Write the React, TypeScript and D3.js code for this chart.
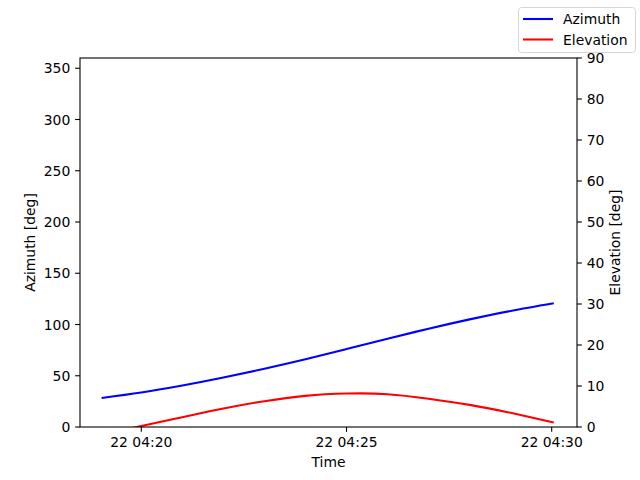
import React from "react";
import * as d3 from "d3";

const timeLabels = [
  "2024-01-22T04:19:02", "2024-01-22T04:20:00", "2024-01-22T04:21:00", "2024-01-22T04:22:00",
  "2024-01-22T04:23:00", "2024-01-22T04:24:00", "2024-01-22T04:25:00", "2024-01-22T04:26:00",
  "2024-01-22T04:27:00", "2024-01-22T04:28:00", "2024-01-22T04:29:00", "2024-01-22T04:30:03",
];
const azimuth = [28.3, 33.6, 40.4, 48.2, 56.8, 66.0, 76.0, 86.1, 95.9, 105.0, 113.2, 120.7];
const elevation = [-2.0, 0.25, 2.4, 4.5, 6.3, 7.6, 8.15, 8.0, 6.9, 5.4, 3.45, 1.1];
const azTicks = [0, 50, 100, 150, 200, 250, 300, 350];
const elTicks = [0, 10, 20, 30, 40, 50, 60, 70, 80, 90];
const xTickLabels = ["2024-01-22T04:20:00", "2024-01-22T04:25:00", "2024-01-22T04:30:00"];

const parse = d3.utcParse("%Y-%m-%dT%H:%M:%S");
const fmt = d3.utcFormat("%d %H:%M");

export default function App() {
  const W = 640, H = 480;
  const L = 80, R = 577, T = 58, B = 427;
  const times = timeLabels.map((s) => parse(s) as Date);
  const xt = xTickLabels.map((s) => parse(s) as Date);
  const x = d3.scaleUtc().domain([xt[0], xt[2]]).range([141.3, 551.7]);
  const yA = d3.scaleLinear().domain([0, 360]).range([B, T]);
  const yE = d3.scaleLinear().domain([0, 90]).range([B, T]);
  const idx = d3.range(times.length);
  const lineA = d3.line<number>().x((i) => x(times[i])).y((i) => yA(azimuth[i])).curve(d3.curveNatural);
  const lineE = d3.line<number>().x((i) => x(times[i])).y((i) => yE(elevation[i])).curve(d3.curveNatural);
  const font = "DejaVu Sans, sans-serif";
  const fs = 13.9;
  const tl = 4.86;
  return (
    <div style={{ position: "absolute", left: 0, top: 0 }}>
      <svg width={W} height={H} style={{ display: "block" }} fontFamily={font} fontSize={fs}>
        <rect width={W} height={H} fill="white" />
        <defs>
          <clipPath id="plot">
            <rect x={L} y={T} width={R - L} height={B - T} />
          </clipPath>
        </defs>
        <g clipPath="url(#plot)">
          <path d={lineA(idx) || ""} fill="none" stroke="#0000ff" strokeWidth={2.08} />
          <path d={lineE(idx) || ""} fill="none" stroke="#ff0000" strokeWidth={2.08} />
        </g>
        <rect x={L} y={T} width={R - L} height={B - T} fill="none" stroke="black" strokeWidth={1.1} />
        {azTicks.map((v) => (
          <g key={"a" + v}>
            <line x1={L - tl} x2={L} y1={yA(v)} y2={yA(v)} stroke="black" strokeWidth={1.1} />
            <text x={L - tl - 4.86} y={yA(v)} dy="0.36em" textAnchor="end">{v}</text>
          </g>
        ))}
        {elTicks.map((v) => (
          <g key={"e" + v}>
            <line x1={R} x2={R + tl} y1={yE(v)} y2={yE(v)} stroke="black" strokeWidth={1.1} />
            <text x={R + tl + 4.86} y={yE(v)} dy="0.36em" textAnchor="start">{v}</text>
          </g>
        ))}
        {xt.map((d, i) => (
          <g key={"x" + i}>
            <line x1={x(d)} x2={x(d)} y1={B} y2={B + tl} stroke="black" strokeWidth={1.1} />
            <text x={x(d)} y={B + tl + 4.86} dy="0.76em" textAnchor="middle">{fmt(d)}</text>
          </g>
        ))}
        <text x={(L + R) / 2} y={462} dy="0.36em" textAnchor="middle">Time</text>
        <text transform={`translate(30,${(T + B) / 2}) rotate(-90)`} dy="0.36em" textAnchor="middle">Azimuth [deg]</text>
        <text transform={`translate(615,${(T + B) / 2}) rotate(-90)`} dy="0.36em" textAnchor="middle">Elevation [deg]</text>
        <g>
          <rect x={518.5} y={7.5} width={117} height={45} rx={3} fill="white" fillOpacity={0.8} stroke="#d6d6d6" strokeWidth={1} />
          <line x1={523} x2={553} y1={19} y2={19} stroke="#0000ff" strokeWidth={2.08} />
          <text x={563} y={19} dy="0.36em">Azimuth</text>
          <line x1={523} x2={553} y1={39.5} y2={39.5} stroke="#ff0000" strokeWidth={2.08} />
          <text x={563} y={39.5} dy="0.36em">Elevation</text>
        </g>
      </svg>
    </div>
  );
}
